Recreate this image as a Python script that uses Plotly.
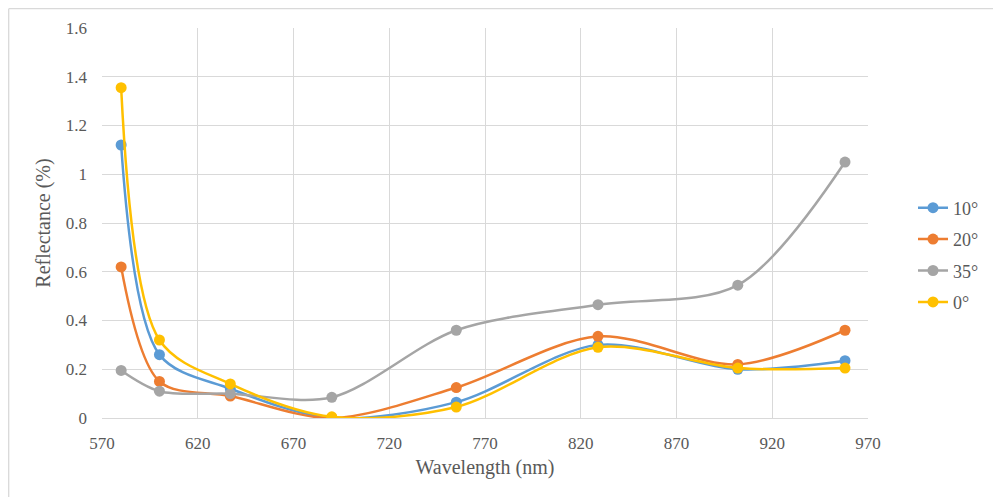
import plotly.graph_objects as go

wavelength = [580, 600, 637, 690, 755, 829, 902, 958]
r10 = [1.12, 0.26, 0.12, 0.0, 0.065, 0.30, 0.20, 0.235]
r20 = [0.62, 0.15, 0.09, 0.0, 0.125, 0.335, 0.22, 0.36]
r35 = [0.195, 0.11, 0.10, 0.085, 0.36, 0.465, 0.545, 1.05]
r0 = [1.355, 0.32, 0.14, 0.005, 0.045, 0.29, 0.205, 0.205]

series = [("10°", r10, "#5B9BD5"), ("20°", r20, "#ED7D31"),
          ("35°", r35, "#A5A5A5"), ("0°", r0, "#FFC000")]

x_ticks = [570, 620, 670, 720, 770, 820, 870, 920, 970]
y_ticks = [0, 0.2, 0.4, 0.6, 0.8, 1, 1.2, 1.4, 1.6]
y_labels = ["0", "0.2", "0.4", "0.6", "0.8", "1", "1.2", "1.4", "1.6"]

fig = go.Figure()
for name, vals, color in series:
    fig.add_trace(go.Scatter(
        x=wavelength, y=vals, name=name, mode="lines+markers",
        legendgroup=name,
        line=dict(color=color, width=2.5, shape="spline", smoothing=0.9),
        marker=dict(color=color, size=11),
    ))

FONT = "'Liberation Serif', 'DejaVu Serif', serif"
OFF = 8  # page body margin
W, H = 1001 - OFF, 497 - OFF
L, R, T, B = 102 - OFF, 868 - OFF, 28 - OFF, 418 - OFF
pw, ph = R - L, B - T

def px(xp):
    return (xp - L) / pw

def py(yp):
    return (B - yp) / ph

fig.update_layout(
    width=W, height=H,
    margin=dict(l=L, r=W - R, t=T, b=H - B, pad=0),
    paper_bgcolor="white", plot_bgcolor="white",
    font=dict(family=FONT, size=17, color="#595959"),
    xaxis=dict(range=[570, 970], tickvals=x_ticks, showgrid=True,
               gridcolor="#d9d9d9", gridwidth=1.3, zeroline=False,
               showline=True, linecolor="#d9d9d9", linewidth=1.3,
               ticks="", ticklabelstandoff=9,
               title=dict(text="Wavelength (nm)", font=dict(family=FONT, size=20, color="#595959"),
                          standoff=8)),
    yaxis=dict(range=[0, 1.6], tickvals=y_ticks, ticktext=y_labels, showgrid=True,
               gridcolor="#d9d9d9", gridwidth=1.3, zeroline=False,
               showline=False, ticks="", ticklabelstandoff=14,
               title=dict(text="Reflectance (%)", font=dict(family=FONT, size=20, color="#595959"),
                          standoff=9)),
    legend=dict(x=px(913 - OFF), y=py(255 - OFF), xanchor="left", yanchor="middle",
                font=dict(family=FONT, size=18, color="#595959"), traceorder="grouped",
                tracegroupgap=5, bgcolor="rgba(0,0,0,0)"),
    showlegend=True,
    shapes=[
        dict(type="line", xref="paper", yref="paper",
             x0=px(0.7), x1=px(W + 5), y0=py(0.7), y1=py(0.7),
             line=dict(color="#d9d9d9", width=1.3), layer="below"),
        dict(type="line", xref="paper", yref="paper",
             x0=px(0.7), x1=px(0.7), y0=py(H + 5), y1=py(0.7),
             line=dict(color="#d9d9d9", width=1.3), layer="below"),
    ],
)

fig.write_html("out.html")
